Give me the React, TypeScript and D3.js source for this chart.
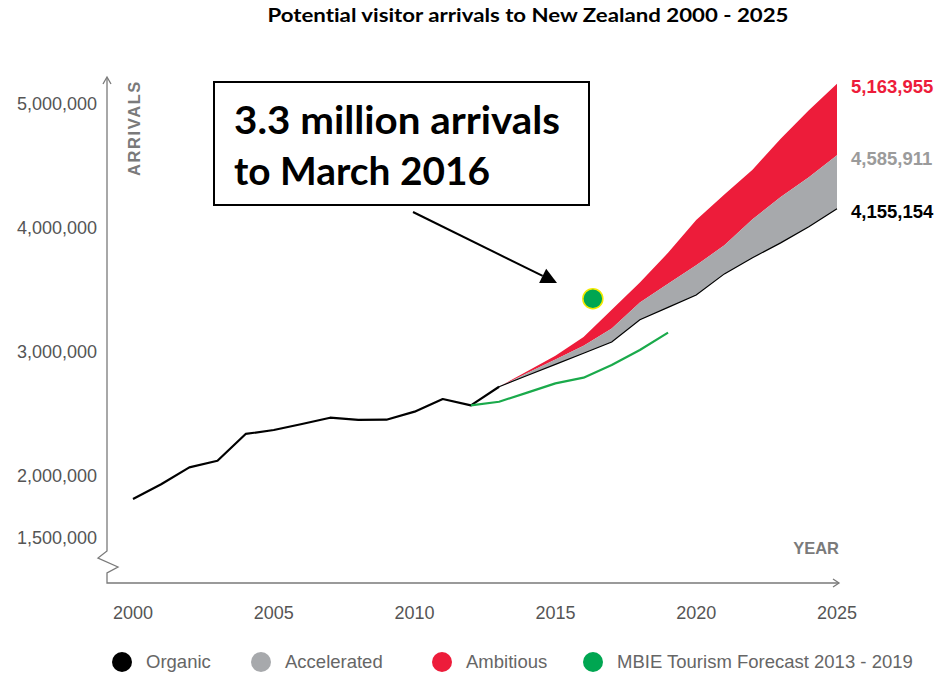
import React from "react";
import * as d3 from "d3";

const histYears = [2000, 2001, 2002, 2003, 2004, 2005, 2006, 2007, 2008, 2009, 2010, 2011, 2012, 2013];
const organicHist = [1.815, 1.933, 2.07, 2.123, 2.339, 2.371, 2.419, 2.47, 2.452, 2.454, 2.519, 2.621, 2.57, 2.72];

const projYears = [2013, 2014, 2015, 2016, 2017, 2018, 2019, 2020, 2021, 2022, 2023, 2024, 2025];
const organicProj = [2.72, 2.81, 2.9, 2.99, 3.08, 3.26, 3.36, 3.46, 3.63, 3.76, 3.88, 4.01, 4.155154];
const acceleratedProj = [2.72, 2.83, 2.94, 3.05, 3.19, 3.4, 3.55, 3.7, 3.86, 4.07, 4.25, 4.41, 4.585911];
const ambitiousProj = [2.72, 2.845, 2.97, 3.12, 3.34, 3.56, 3.8, 4.065, 4.27, 4.47, 4.72, 4.95, 5.163955];

const mbieYears = [2012, 2013, 2014, 2015, 2016, 2017, 2018, 2019];
const mbieValues = [2.57, 2.599, 2.672, 2.747, 2.793, 2.895, 3.016, 3.156];

const markerYear = 2016.33;
const markerValue = 3.43;

const yTicks = [1.5, 2, 3, 4, 5];
const xTicks = [2000, 2005, 2010, 2015, 2020, 2025];

const endLabels = ["5,163,955", "4,585,911", "4,155,154"];
const legendItems = ["Organic", "Accelerated", "Ambitious", "MBIE Tourism Forecast 2013 - 2019"];

const RED = "#ed1c3a";
const GREY = "#a7a9ac";
const GREEN = "#1aaa4b";
const AXIS = "#7a7a7a";
const SANS = "'Liberation Sans', Arial, sans-serif";
const CAL = "Lato, 'Open Sans', sans-serif";

export default function App() {
  const x = d3.scaleLinear().domain([2000, 2025]).range([133, 837]);
  const y = d3.scaleLinear().domain([1.5, 5]).range([538, 104]);

  const line = d3
    .line<[number, number]>()
    .x((d) => x(d[0]))
    .y((d) => y(d[1]));

  const hist = histYears.map((yr, i) => [yr, organicHist[i]] as [number, number]);
  const mbie = mbieYears.map((yr, i) => [yr, mbieValues[i]] as [number, number]);
  const org = projYears.map((yr, i) => [yr, organicProj[i]] as [number, number]);

  const band = (lo: number[], hi: number[]) =>
    d3
      .area<number>()
      .x((_, i) => x(projYears[i]))
      .y0((_, i) => y(lo[i]))
      .y1((_, i) => y(hi[i]))(projYears.map((_, i) => i)) || "";

  const redArea = band(acceleratedProj, ambitiousProj);
  const greyArea = band(organicProj, acceleratedProj);

  const axisX = 107;
  const axisY = 583;
  const xEnd = 839;

  const last = projYears.length - 1;
  const endVals = [ambitiousProj[last], acceleratedProj[last], organicProj[last]];
  const endColors = [RED, "#9b9b9b", "#000"];

  const legendX = [122, 261, 442, 593];
  const legendColors = ["#000", GREY, RED, "#00a651"];

  // arrow
  const ax0 = 413, ay0 = 212, ax1 = 557, ay1 = 283;
  const ang = Math.atan2(ay1 - ay0, ax1 - ax0);
  const hl = 16, hw = 8;
  const bx = ax1 - hl * Math.cos(ang), by = ay1 - hl * Math.sin(ang);
  const head = `M${ax1},${ay1} L${bx + hw * Math.sin(ang)},${by - hw * Math.cos(ang)} L${bx - hw * Math.sin(ang)},${by + hw * Math.cos(ang)} Z`;

  const noLig = { fontVariantLigatures: "none" as const };

  return (
    <svg
      width={939}
      height={674}
      style={{ position: "absolute", left: 0, top: 0, background: "#fff" }}
    >
      <text
        x={528}
        y={22}
        textAnchor="middle"
        fontFamily={CAL}
        fontWeight={700}
        fontSize={19}
        textLength={521}
        lengthAdjust="spacingAndGlyphs"
        fill="#000"
        style={noLig}
      >
        Potential visitor arrivals to New Zealand 2000 - 2025
      </text>

      {/* axes */}
      <path
        d={`M${axisX},78 L${axisX},551 L${axisX - 9},558 L${axisX + 11},567 L${axisX},573 L${axisX},${axisY} L${xEnd},${axisY}`}
        fill="none"
        stroke={AXIS}
        strokeWidth={1.3}
      />
      <path d={`M${axisX - 4},84 L${axisX},77 L${axisX + 4},84`} fill="none" stroke={AXIS} strokeWidth={1.3} />
      <path d={`M${xEnd - 6},${axisY - 4} L${xEnd},${axisY} L${xEnd - 6},${axisY + 4}`} fill="none" stroke={AXIS} strokeWidth={1.3} />

      <text
        transform={`translate(140,128) rotate(-90)`}
        textAnchor="middle"
        fontFamily={SANS}
        fontWeight={700}
        fontSize={16.5}
        letterSpacing={1.6}
        fill={AXIS}
      >
        ARRIVALS
      </text>
      <text x={839} y={554} textAnchor="end" fontFamily={SANS} fontWeight={700} fontSize={16.5} fill={AXIS}>
        YEAR
      </text>

      {yTicks.map((t) => (
        <text
          key={t}
          x={97}
          y={y(t)}
          dy="0.35em"
          textAnchor="end"
          fontFamily={SANS}
          fontSize={18}
          fill="#555"
        >
          {d3.format(",")(t * 1e6)}
        </text>
      ))}
      {xTicks.map((t) => (
        <text
          key={t}
          x={x(t)}
          y={613}
          dy="0.35em"
          textAnchor="middle"
          fontFamily={SANS}
          fontSize={18}
          fill="#555"
        >
          {t}
        </text>
      ))}

      {/* bands */}
      <path d={redArea} fill={RED} />
      <path d={greyArea} fill={GREY} />
      <path d={line(org) || ""} fill="none" stroke="#000" strokeWidth={1.2} />

      {/* history */}
      <path d={line(hist) || ""} fill="none" stroke="#000" strokeWidth={2.2} strokeLinejoin="round" />
      <path d={line(mbie) || ""} fill="none" stroke={GREEN} strokeWidth={2.2} strokeLinejoin="round" />

      <circle cx={x(markerYear)} cy={y(markerValue)} r={10} fill="#00a651" stroke="#f2ea00" strokeWidth={1.5} />

      {/* end labels */}
      {endLabels.map((l, i) => (
        <text
          key={l}
          x={851}
          y={y(endVals[i]) + 3}
          dy="0.35em"
          fontFamily={SANS}
          fontWeight={700}
          fontSize={18.5}
          fill={endColors[i]}
        >
          {l}
        </text>
      ))}

      {/* annotation */}
      <rect x={214} y={82} width={375} height={123} fill="#fff" stroke="#000" strokeWidth={2} />
      <text x={234} y={134} fontFamily={CAL} fontWeight={700} fontSize={39} textLength={326} lengthAdjust="spacingAndGlyphs" fill="#000" style={noLig}>
        3.3 million arrivals
      </text>
      <text x={234} y={185} fontFamily={CAL} fontWeight={700} fontSize={39} textLength={256} lengthAdjust="spacingAndGlyphs" fill="#000" style={noLig}>
        to March 2016
      </text>
      <line x1={ax0} y1={ay0} x2={bx} y2={by} stroke="#000" strokeWidth={2} />
      <path d={head} fill="#000" />

      {/* legend */}
      {legendItems.map((l, i) => (
        <g key={l}>
          <circle cx={legendX[i]} cy={662} r={10} fill={legendColors[i]} />
          <text x={legendX[i] + 24} y={662} dy="0.35em" fontFamily={SANS} fontSize={18.5} fill="#666">
            {l}
          </text>
        </g>
      ))}
    </svg>
  );
}
